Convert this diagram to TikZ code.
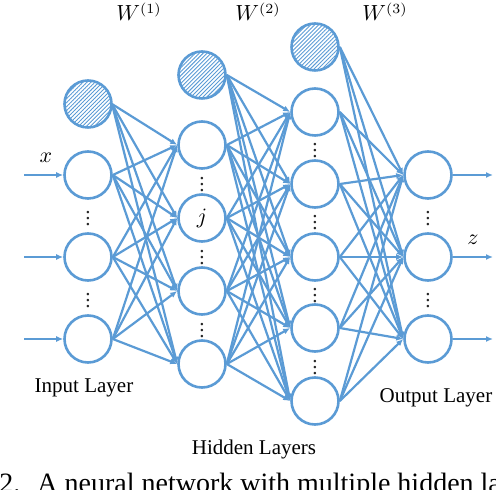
\documentclass[tikz,border=0pt]{standalone}
\usepackage{amsmath}
\usepackage{fontspec}
\setmainfont{Liberation Serif}
\usetikzlibrary{arrows.meta,patterns.meta}
\definecolor{netblue}{RGB}{91,155,213}
\newcommand{\gapdots}{\vbox{\baselineskip3pt\lineskiplimit0pt\kern3pt\hbox{.}\hbox{.}\hbox{.}}}

\begin{document}
\begin{tikzpicture}[x=0.5pt,y=-0.5pt,font=\fontsize{10.5}{12}\selectfont]
  \tikzset{neuron/.style={circle,draw=netblue,line width=1.3pt,minimum size=23.5pt,inner sep=0pt},
    biasnode/.style={neuron,pattern={Lines[angle=45,distance=1.4pt,line width=0.45pt]},pattern color=netblue},
    wire/.style={draw=netblue,line width=1.1pt,-{Latex[length=3.5pt,width=3pt]}},
    gap/.style={inner sep=0pt,text=black!85}}
  \useasboundingbox (0,0) rectangle (496,490);
  \node[biasnode] (N-1-0) at (88,104) {};
  \foreach \i/\y in {1/175,2/257,3/339} \node[neuron] (N-1-\i) at (88,\y) {};
  \node[biasnode] (N-2-0) at (202,75) {};
  \foreach \i/\y in {1/145,2/218,3/291,4/364} \node[neuron] (N-2-\i) at (202,\y) {};
  \node[biasnode] (N-3-0) at (315,47) {};
  \foreach \i/\y in {1/112,2/184,3/257,4/328,5/401} \node[neuron] (N-3-\i) at (315,\y) {};
  \foreach \i/\y in {1/175,2/257,3/339} \node[neuron] (N-4-\i) at (428,\y) {};
  \node (j) at (N-2-2) {$j$};
  \foreach \i/\y in {1/216,2/298} \node[gap] (D-1-\i) at (88,\y) {\gapdots};
  \foreach \i/\y in {1/182,2/255,3/328} \node[gap] (D-2-\i) at (202,\y) {\gapdots};
  \foreach \i/\y in {1/148,2/220,3/293,4/365} \node[gap] (D-3-\i) at (315,\y) {\gapdots};
  \foreach \i/\y in {1/216,2/298} \node[gap] (D-4-\i) at (428,\y) {\gapdots};
  \foreach \a in {0,...,3} \foreach \b in {1,...,4} \draw[wire] (N-1-\a.east) -- (N-2-\b.west);
  \foreach \a in {0,...,4} \foreach \b in {1,...,5} \draw[wire] (N-2-\a.east) -- (N-3-\b.west);
  \foreach \a in {0,...,5} \foreach \b in {1,...,3} \draw[wire] (N-3-\a.east) -- (N-4-\b.west);
  \foreach \i/\y in {1/175,2/257,3/339} {
    \coordinate (x-\i) at (24,\y);
    \coordinate (z-\i) at (493,\y);
    \draw[wire] (x-\i) -- (N-1-\i.west);
    \draw[wire] (N-4-\i.east) -- (z-\i);
  }
  \node (x) at (46,158) {$x$};
  \node (z) at (473,240) {$z$};
  \node[anchor=base] (W-1) at (139,21) {$W^{(1)}$};
  \node[anchor=base] (W-2) at (258,21) {$W^{(2)}$};
  \node[anchor=base] (W-3) at (385,21) {$W^{(3)}$};
  \node[anchor=base] (input) at (84,393) {Input Layer};
  \node[anchor=base] (hidden) at (254,454) {Hidden Layers};
  \node[anchor=base] (output) at (436,402) {Output Layer};
  \node[anchor=base west,inner sep=0pt,font=\fontsize{14}{16}\selectfont] (caption) at (-1,492) {2.\hspace{8.5pt}A neural network with multiple hidden layers};
\end{tikzpicture}
\end{document}
